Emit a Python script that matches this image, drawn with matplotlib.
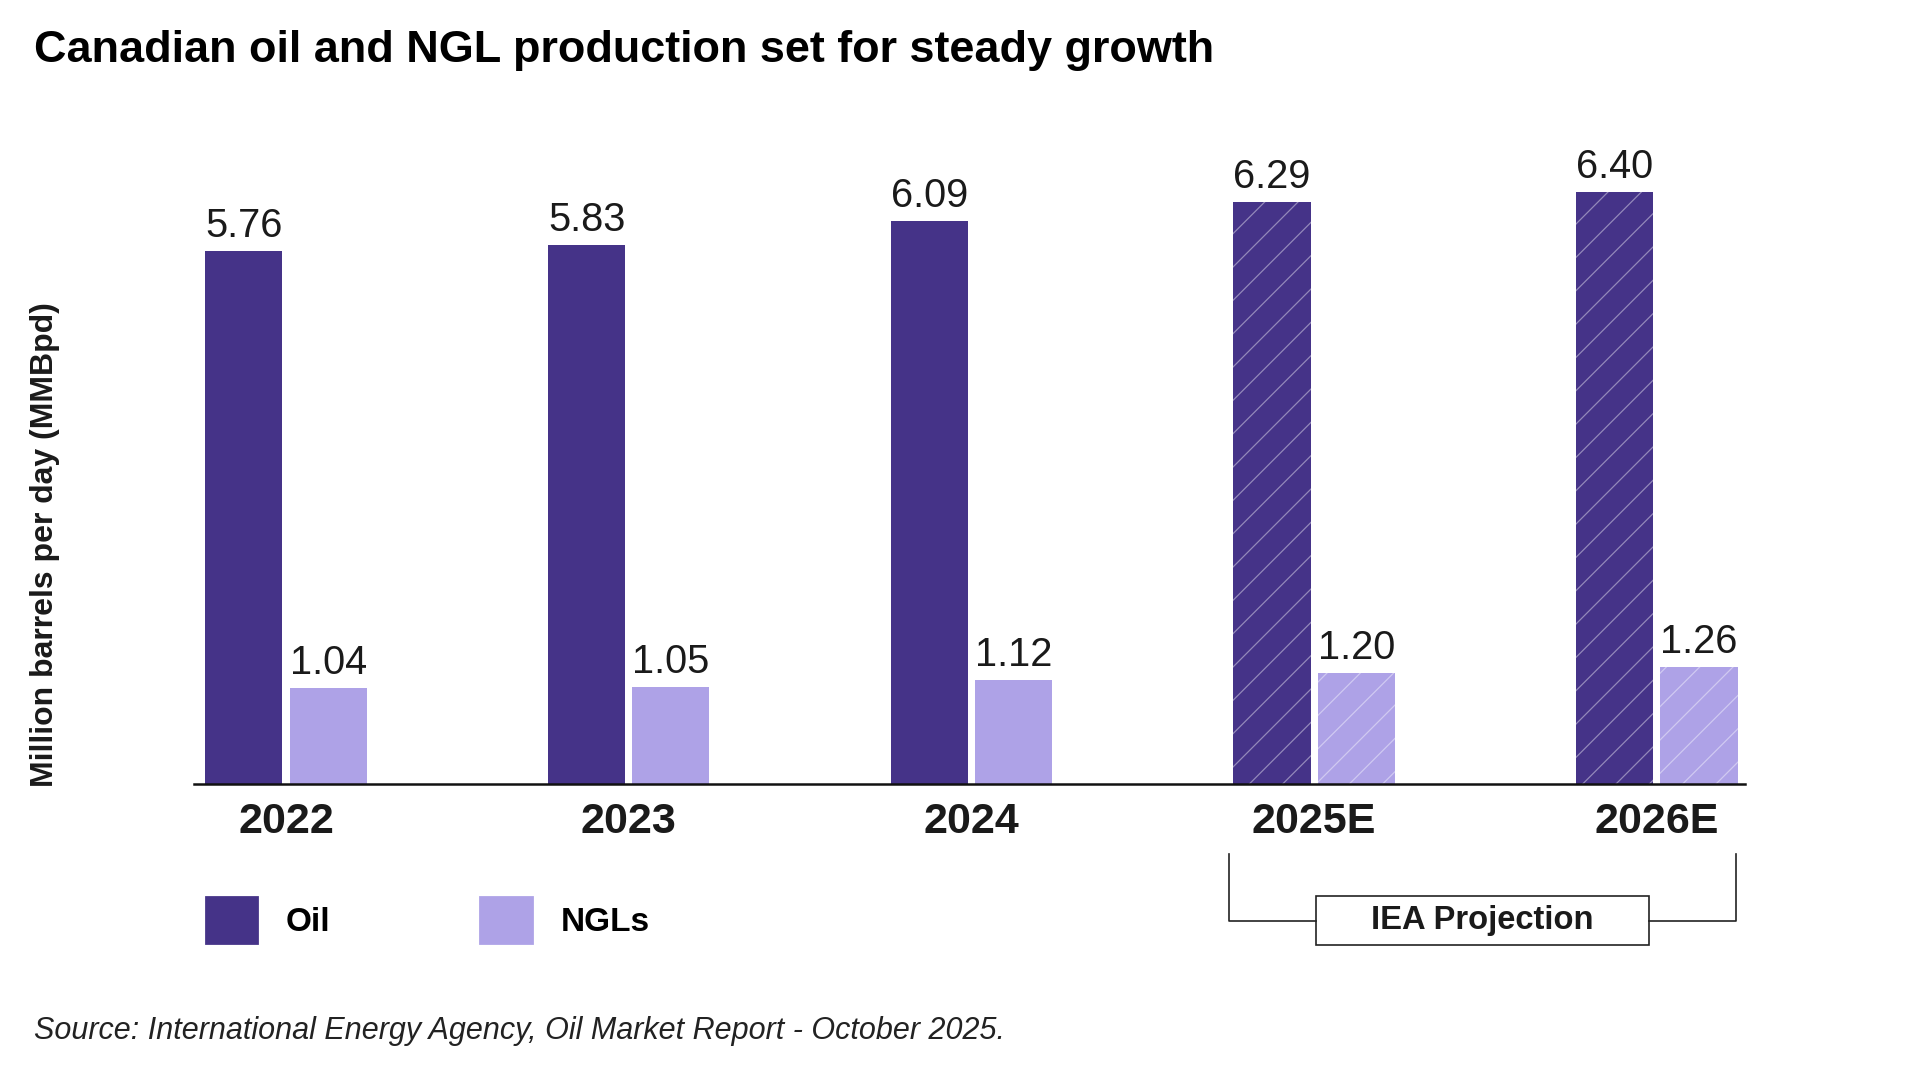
import matplotlib
matplotlib.use("Agg")
import matplotlib.pyplot as plt
import matplotlib.patches as mpatches
import matplotlib.transforms as mtransforms
import numpy as np

plt.rcParams['font.family'] = ['Liberation Sans', 'DejaVu Sans']
plt.rcParams['hatch.linewidth'] = 0.45

# data
years = ['2022', '2023', '2024', '2025E', '2026E']
oil = [5.76, 5.83, 6.09, 6.29, 6.40]
ngl = [1.04, 1.05, 1.12, 1.20, 1.26]
projected = [False, False, False, True, True]

oil_color = '#453388'
ngl_color = '#aea2e7'
hatch_col = (1, 1, 1, 0.42)

# 1920x1080 at dpi 200 (hatch spacing scales with dpi)
fig = plt.figure(figsize=(9.6, 5.4), dpi=200)
ax = fig.add_axes([0.1008, 0.2744, 0.808, 0.5992])

x = np.arange(len(years))
width = 0.225
gap = 0.021
off = (width + gap) / 2

b_oil = ax.bar(x - off, oil, width, color=oil_color, edgecolor=hatch_col, linewidth=0)
b_ngl = ax.bar(x + off, ngl, width, color=ngl_color, edgecolor=hatch_col, linewidth=0)
for bars in (b_oil, b_ngl):
    for p, proj in zip(bars, projected):
        if proj:
            p.set_hatch('//')

for xs, vals in ((x - off, oil), (x + off, ngl)):
    for xi, v in zip(xs, vals):
        ax.annotate("{:.2f}".format(v), (xi, v), xytext=(0, 5), textcoords='offset points',
                    ha='center', va='baseline', fontsize=14.3, color='#1a1a1a')

ax.set_xlim(-0.27, len(years) - 1 + 0.257)
ax.set_ylim(0, 7.0)
ax.set_xticks(x)
ax.set_xticklabels(years, fontsize=15.5, fontweight='bold', color='#1a1a1a')
ax.tick_params(axis='x', length=0, pad=6.5)
ax.set_yticks([])
for s in ('top', 'right', 'left'):
    ax.spines[s].set_visible(False)
ax.spines['bottom'].set_linewidth(0.9)
ax.spines['bottom'].set_color('#111111')

ax.set_ylabel("Million barrels per day (MMBpd)", fontsize=11.5, fontweight='bold', color='#1a1a1a')
ax.yaxis.set_label_coords(-0.086, 0.369)

# title and source
fig.text(0.0177, 0.953, "Canadian oil and NGL production set for steady growth",
         fontsize=16.2, fontweight='bold', ha='left', va='center', color='black')
fig.text(0.0177, 0.0455, "Source: International Energy Agency, Oil Market Report - October 2025.",
         fontsize=11, style='italic', ha='left', va='center', color='#222222')

# legend
oil_patch = mpatches.Patch(color=oil_color, label='Oil')
ngl_patch = mpatches.Patch(color=ngl_color, label='NGLs')
fig.legend(handles=[oil_patch, ngl_patch], loc='center left', bbox_to_anchor=(0.1071, 0.148),
           ncol=2, frameon=False, prop={'size': 12, 'weight': 'bold'},
           handlelength=1.55, handleheight=1.72, handletextpad=0.85, columnspacing=4.5,
           borderpad=0, borderaxespad=0)

# projection bracket
tr = mtransforms.blended_transform_factory(ax.transData, fig.transFigure)
i0 = years.index('2025E')
i1 = years.index('2026E')
xl = x[i0] - off - width / 2 - 0.012
xr = x[i1] + off + width / 2 - 0.005
xc = (xl + xr) / 2
y_top = 0.2097
y_mid = 0.1475
box_w = 0.97
box_h = 0.0454
kw = dict(color='#222222', lw=0.6, transform=tr, clip_on=False)
ax.plot([xl, xl, xc - box_w / 2], [y_top, y_mid, y_mid], **kw)
ax.plot([xr, xr, xc + box_w / 2], [y_top, y_mid, y_mid], **kw)
ax.add_patch(mpatches.Rectangle((xc - box_w / 2, y_mid - box_h / 2), box_w, box_h,
                                facecolor='white', edgecolor='#222222', lw=0.6,
                                transform=tr, clip_on=False))
ax.text(xc, y_mid, "IEA Projection", transform=tr, ha='center', va='center',
        fontsize=11.8, fontweight='bold', color='#1a1a1a')

plt.savefig("out.png", dpi=200)
